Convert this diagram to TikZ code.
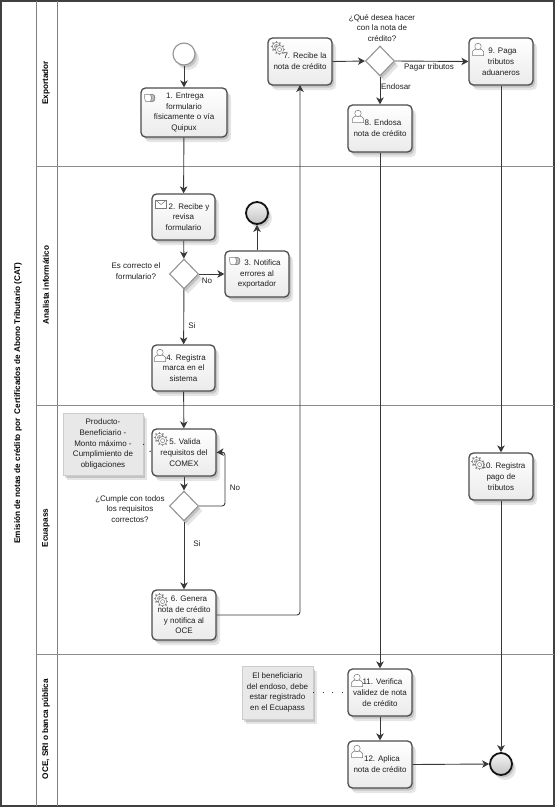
\documentclass[tikz,border=0pt]{standalone}
\usepackage{fontspec}
\setmainfont{Liberation Sans}
\usetikzlibrary{shadows,arrows.meta,shapes.geometric}
\tikzset{
 softshadow/.style={drop shadow={shadow xshift=2pt,shadow yshift=-2.5pt,fill=black,opacity=.14},drop shadow={shadow xshift=4pt,shadow yshift=-5pt,fill=black,opacity=.10}},
 taskbox/.style={draw=black!70,line width=1.3pt,rounded corners=4.5pt,top color=white,bottom color=black!8,softshadow,inner sep=0pt,align=center,font=\fontsize{8}{10.8}\selectfont,text=black!88},
 notebox/.style={draw=black!20,line width=.5pt,fill=black!9,softshadow,inner sep=0pt,align=center,font=\fontsize{8}{10.8}\selectfont,text=black!88},
 gatebox/.style={diamond,aspect=1,draw=black!42,line width=1.1pt,fill=white,softshadow,inner sep=0pt,minimum width=29pt,minimum height=30pt},
 startev/.style={circle,draw=black!42,line width=1.1pt,fill=white,softshadow,inner sep=0pt,minimum size=22pt},
 endev/.style={circle,draw=black!92,line width=1.8pt,top color=black!4,bottom color=black!24,softshadow,inner sep=0pt,minimum size=22pt},
 flow/.style={draw=black!78,line width=.9pt,rounded corners=3pt,-{Stealth[length=7pt,width=7.5pt,inset=2pt]}},
 assoc/.style={draw=black!80,line width=1pt,dash pattern=on 1pt off 8.5pt},
 lab/.style={font=\fontsize{8}{10.8}\selectfont,text=black!88,align=center,inner sep=0pt},
 lanelab/.style={font=\bfseries\fontsize{8.2}{10}\selectfont,rotate=90,inner sep=0pt},
 icon/.style={draw=black!52,line width=.5pt,fill=white},
 pics/usericon/.style={code={
  \draw[icon] (-5.5,6.5) -- (-5.5,2.5) .. controls (-5.5,.5) and (-2,.5) .. (-1.5,0) -- (1.5,0) .. controls (2,.5) and (5.5,.5) .. (5.5,2.5) -- (5.5,6.5) -- cycle;
  \draw[icon] (0,-2.6) circle (3.2);
 }},
 pics/gearicon/.style={code={
  \foreach \a in {0,45,...,315}{\draw[draw=black!48,line width=1.2pt] (\a:3.6) -- (\a:5.6);}
  \draw[icon] (0,0) circle (4.2); \draw[icon] (0,0) circle (2);
 }},
 pics/gearsicon/.style={code={
  \pic at (-1.5,-1.5) {gearicon};
  \pic at (1.6,1.6) {gearicon};
 }},
 pics/mailicon/.style={code={
  \draw[icon] (-5.5,-4) rectangle (5.5,4);
  \draw[draw=black!52,line width=.5pt] (-5.5,-4) -- (0,.5) -- (5.5,-4);
 }},
 pics/manualicon/.style={code={
  \draw[icon] (-5.5,-3.5) -- (2,-3.5) .. controls (4,-3.5) and (5,-2) .. (5,0) .. controls (5,2) and (4,3.5) .. (2,3.5) -- (-4,3.5) .. controls (-5.5,3.5) and (-5.5,-3.5) .. (-5.5,-3.5) -- cycle;
  \draw[icon,fill=black!25] (.5,-3.5) -- (3,-3.5) .. controls (5,-3) and (5,1) .. (3,3.5) -- (.5,3.5) .. controls (2,1) and (2,-1) .. (.5,-3.5) -- cycle;
 }},
}
\newcommand{\tsk}[6]{\node[taskbox,minimum width=#3pt-#1pt,minimum height=#4pt-#2pt] (#5) at ({(#1+#3)/2},{(#2+#4)/2}) {#6};}
\begin{document}
\begin{tikzpicture}[x=1pt,y=-1pt]
\useasboundingbox (0,0) rectangle (556,807);
\fill[white] (0,0) rectangle (556,807);
% pool and lanes
\draw[black!75,line width=1.2pt] (1,1) rectangle (554,806);
\draw[black!50,line width=.9pt] (36,1) -- (36,806);
\draw[black!50,line width=.9pt] (57,1) -- (57,806);
\draw[black!45,line width=.6pt] (36,166) -- (554,166);
\draw[black!45,line width=.6pt] (36,405) -- (554,405);
\draw[black!45,line width=.6pt] (36,654) -- (554,654);
\node[lanelab] (ttl) at (18,403) {Emisión de notas de crédito por\ \ Certificados de Abono Tributario (CAT)};
\node[lanelab] (l1) at (46,83) {Exportador};
\node[lanelab] (l2) at (46,285) {Analista informático};
\node[lanelab] (l3) at (46,528) {Ecuapass};
\node[lanelab] (l4) at (46,729) {OCE, SRI o banca pública};
% events and gateways
\node[startev] (st) at (184,54) {};
\node[endev] (e1) at (257,213) {};
\node[endev] (e2) at (501,764) {};
\node[gatebox] (g1) at (184,274) {};
\node[gatebox] (g2) at (184,506) {};
\node[gatebox] (g3) at (380,61) {};
% tasks
\tsk{141}{88}{227}{137}{t1}{\hspace*{2pt}1.  Entrega\\formulario\\físicamente o vía\\Quipux}
\tsk{152}{194}{215}{240}{t2}{\hspace*{11pt}2. Recibe  y\\revisa\\formulario}
\tsk{225}{251}{289}{297}{t3}{\hspace*{11pt}3. Notifica\\errores al\\exportador}
\tsk{152}{345}{215}{391}{t4}{\hspace*{5pt}4. Registra\\marca en el\\sistema}
\tsk{152}{429}{216}{476}{t5}{\hspace*{2pt}5. Valida\\requisitos del\\COMEX}
\tsk{152}{590}{216}{640}{t6}{\hspace*{10pt}6. Genera\\nota de crédito\\y notifica al\\OCE}
\tsk{268}{38}{332}{85}{t7}{\hspace*{10pt}7. Recibe la\\nota de crédito}
\tsk{348}{105}{412}{152}{t8}{\hspace*{6pt}8. Endosa\\nota de crédito}
\tsk{469}{38}{533}{85}{t9}{\hspace*{3pt}9. Paga\\tributos\\aduaneros}
\tsk{469}{453}{533}{500}{t10}{\hspace*{5pt}10. Registra\\pago de\\tributos}
\tsk{348}{669}{412}{716}{t11}{\hspace*{5pt}11. Verifica\\validez de nota\\de crédito}
\tsk{348}{741}{412}{788}{t12}{\hspace*{4pt}12. Aplica\\nota de crédito}
% notes
\node[notebox,minimum width=80pt,minimum height=62pt] (n1) at (103,444) {Producto-\\Beneficiario -\\Monto máximo -\\Cumplimiento de\\obligaciones};
\node[notebox,minimum width=71pt,minimum height=53pt] (n2) at (277.5,692.5) {El beneficiario\\del endoso, debe\\estar registrado\\en el Ecuapass};
% icons
\pic at (150,98) {manualicon};
\pic at (161,204) {mailicon};
\pic at (235,261) {manualicon};
\pic at (160,355) {usericon};
\pic at (161,439) {gearsicon};
\pic at (161,600) {gearsicon};
\pic at (278,48) {gearsicon};
\pic at (358,116) {usericon};
\pic at (478,49) {usericon};
\pic at (478,463) {gearsicon};
\pic at (357,680) {usericon};
\pic at (357,751) {usericon};
% flows
\draw[flow] (st) -- (t1);
\draw[flow] (t1) -- (t2);
\draw[flow] (t2) -- (g1);
\draw[flow] (g1) -- (t3.west |- g1);
\draw[flow] (t3) -- (e1);
\draw[flow] (g1) -- (t4);
\draw[flow] (t4) -- (t5);
\draw[flow] (t5) -- (g2);
\draw[flow] (g2.east) -- (225,506) -- (225,452) -- (t5.east);
\draw[flow] (g2) -- (t6);
\draw[flow] (t6.east) -- (300,615) -- (300,85);
\draw[flow] (t7.east) -- (g3.west);
\draw[flow] (g3.east) -- (t9.west);
\draw[flow] (g3) -- (t8);
\draw[flow] (t8) -- (t11);
\draw[flow] (t9) -- (t10);
\draw[flow] (t10) -- (e2);
\draw[flow] (t11) -- (t12);
\draw[flow] (t12.east) -- (e2.west);
\draw[assoc] (n1.east) -- (t5.west);
\draw[assoc] (n2.east) -- (t11.west);
% labels
\node[lab] (q1) at (136,271.5) {Es correcto el\\formulario?};
\node[lab] (q2) at (130,509) {¿Cumple con todos\\los requisitos\\correctos?};
\node[lab] (q3) at (382,28) {¿Qué desea hacer\\con la nota de\\crédito?};
\node[lab] (f1) at (207,281) {No};
\node[lab] (f2) at (192,326) {Si};
\node[lab] (f3) at (235,488) {No};
\node[lab] (f4) at (197,544) {Si};
\node[lab] (f5) at (429,67) {Pagar tributos};
\node[lab] (f6) at (396,87) {Endosar};
\end{tikzpicture}
\end{document}
